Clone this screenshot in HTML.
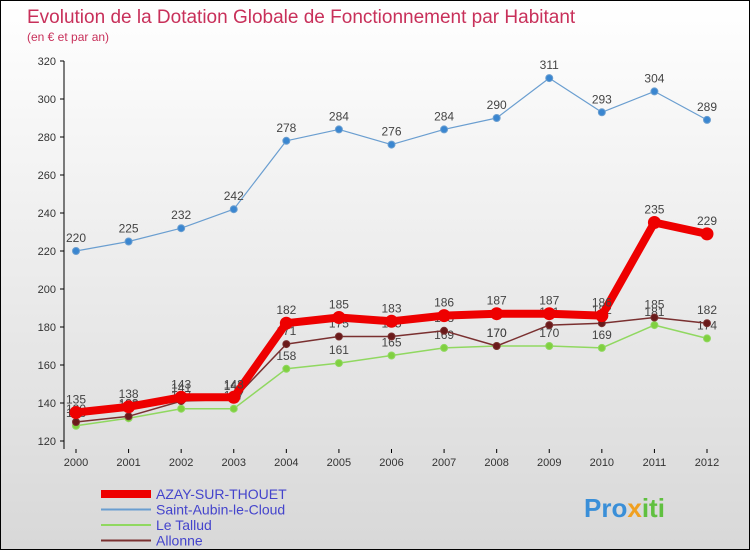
<!DOCTYPE html>
<html><head><meta charset="utf-8"><style>
body{margin:0}
#c{width:750px;height:550px;position:relative;box-sizing:border-box;border:1px solid #000;background:linear-gradient(#fff,#d8d8d8);font-family:"Liberation Sans",sans-serif;overflow:hidden}
text{font-family:"Liberation Sans",sans-serif}
</style></head><body>
<div id="c">
<svg id="s" width="750" height="550">
<text x="26" y="22" font-size="19" fill="#c8305a">Evolution de la Dotation Globale de Fonctionnement par Habitant</text>
<text x="26" y="40" font-size="12" fill="#c8305a">(en € et par an)</text>
<text x="583" y="516" font-size="26" font-weight="bold" fill="#3a8fd8">Pro<tspan fill="#f0a020">x</tspan><tspan fill="#60c040">iti</tspan></text>
</svg>
</div>
<script>
const years=[2000,2001,2002,2003,2004,2005,2006,2007,2008,2009,2010,2011,2012];
const yTicks=[120,140,160,180,200,220,240,260,280,300,320];
const azay=[135,138,143,143,182,185,183,186,187,187,186,235,229];
const stAubin=[220,225,232,242,278,284,276,284,290,311,293,304,289];
const tallud=[128,132,137,137,158,161,165,169,170,170,169,181,174];
const allonne=[130,133,141,142,171,175,175,178,170,181,182,185,182];
const NS="http://www.w3.org/2000/svg";
const svg=document.getElementById('s');
const X=i=>75+i*(706-75)/(years.length-1);
const Y=v=>440-(v-120)*1.9;
function mk(t,a,p){const e=document.createElementNS(NS,t);for(const k in a)e.setAttribute(k,a[k]);(p||svg).appendChild(e);return e;}
const ax=mk('g',{});


mk('line',{x1:63,y1:60,x2:63,y2:448,stroke:'#000'},ax);
yTicks.forEach(v=>{
 mk('line',{x1:59,y1:Y(v),x2:63,y2:Y(v),stroke:'#000'},ax);
 const t=mk('text',{x:55,y:Y(v)+4,'font-size':11,'text-anchor':'end',fill:'#333'},ax);t.textContent=v;
 
 
});
years.forEach((y,i)=>{
 mk('line',{x1:X(i),y1:448,x2:X(i),y2:452,stroke:'#000'},ax);
 const t=mk('text',{x:X(i),y:465,'font-size':11,'text-anchor':'middle',fill:'#333'},ax);t.textContent=y;
 
 
});
function series(name,vals,color,w,r,dotColor){
 const g=mk('g',{});
 
 
 mk('polyline',{points:vals.map((v,i)=>X(i)+','+Y(v)).join(' '),fill:'none',stroke:color,'stroke-width':w,'stroke-linejoin':'round'},g);
 vals.forEach((v,i)=>{
  const c=mk('circle',{cx:X(i),cy:Y(v),r:r,fill:dotColor,stroke:color,'stroke-width':1},g);
  
  
  const t=mk('text',{x:X(i),y:Y(v)-9,'font-size':12,'text-anchor':'middle',fill:'#444'},g);t.textContent=v;
  
  
 });
}
series('le-tallud-series',tallud,'#90d860',1.5,3.5,'#80d040');
series('allonne-series',allonne,'#7a3030',1.5,3.5,'#6a1a1a');
series('st-aubin-series',stAubin,'#6a9ed0',1.2,3.5,'#3a86d0');
series('azay-series',azay,'#ee0000',8,6,'#ee0000');
const leg=[['AZAY-SUR-THOUET','#ee0000',8],['Saint-Aubin-le-Cloud','#6a9ed0',2],['Le Tallud','#90d860',2],['Allonne','#7a3030',2]];
leg.forEach((l,i)=>{
 const y=493+i*15.5;
 const g=mk('g',{});
 
 
 mk('line',{x1:100,y1:y,x2:150,y2:y,stroke:l[1],'stroke-width':l[2]},g);
 const t=mk('text',{x:155,y:y+5,'font-size':14,fill:'#4444cc'},g);t.textContent=l[0];
});
</script>
</body></html>
